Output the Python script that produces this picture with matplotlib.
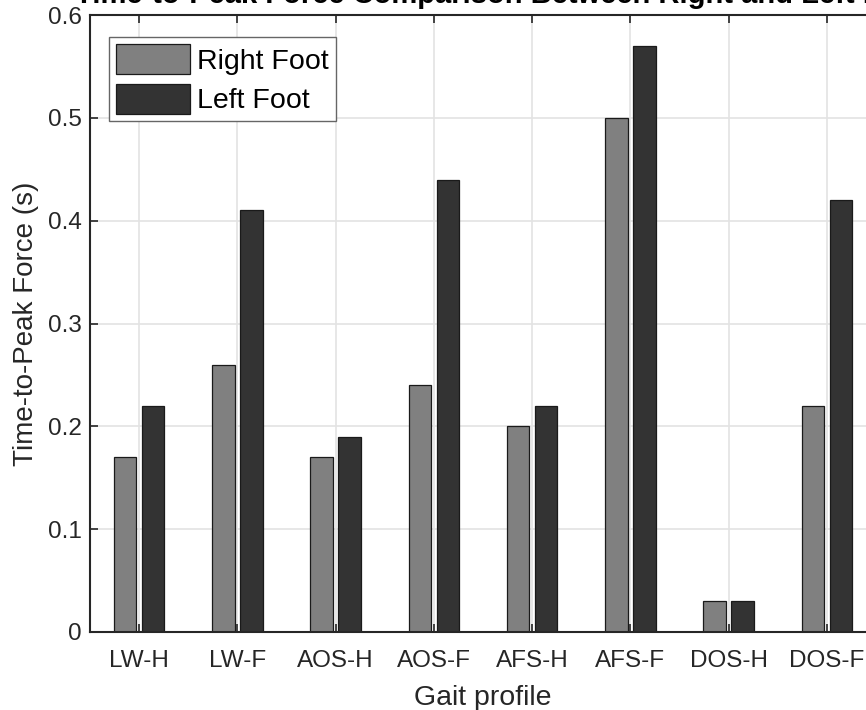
import matplotlib

matplotlib.use("Agg")
import matplotlib.pyplot as plt
import numpy as np

plt.rcParams["font.family"] = ["Liberation Sans", "DejaVu Sans"]

profiles = ["LW-H", "LW-F", "AOS-H", "AOS-F", "AFS-H", "AFS-F", "DOS-H", "DOS-F"]
right_foot = [0.17, 0.26, 0.17, 0.24, 0.20, 0.50, 0.03, 0.22]
left_foot = [0.22, 0.41, 0.19, 0.44, 0.22, 0.57, 0.03, 0.42]
yticks = [0, 0.1, 0.2, 0.3, 0.4, 0.5, 0.6]

W, H = 866, 710
fig = plt.figure(figsize=(W / 100, H / 100), dpi=100)
fig.patch.set_facecolor("white")

# axes box runs slightly past the right edge of the canvas
ax = fig.add_axes([90 / W, (H - 632) / H, (876 - 90) / W, (632 - 15) / H])

x = np.arange(1, len(profiles) + 1)
group_w = 2 / 3.5
bar_w = group_w / 2 * 0.8
off = group_w / 4

ax.bar(x - off, right_foot, bar_w, color="#808080", edgecolor="#1a1a1a",
       linewidth=0.9, label="Right Foot", zorder=3)
ax.bar(x + off, left_foot, bar_w, color="#333333", edgecolor="#1a1a1a",
       linewidth=0.9, label="Left Foot", zorder=3)

ax.set_xlim(0.5, len(profiles) + 0.5)
ax.set_ylim(0, 0.6)
ax.set_xticks(x)
ax.set_xticklabels(profiles)
ax.set_yticks(yticks)
ax.set_yticklabels([f"{v:g}" for v in yticks])

ax.grid(True, color="#e3e3e3", linewidth=1.2, zorder=0)
ax.set_axisbelow(True)

for side in ["top", "bottom", "left", "right"]:
    ax.spines[side].set_color("#262626")
    ax.spines[side].set_linewidth(1.5)
    ax.spines[side].set_zorder(4)

ax.tick_params(axis="both", direction="in", length=6, width=1.2,
               color="#262626", labelcolor="#262626", labelsize=17.5,
               top=True, right=True)
ax.tick_params(axis="x", pad=13)
ax.tick_params(axis="y", pad=6)

ax.set_xlabel("Gait profile", fontsize=20.5, color="#262626", labelpad=9)
ax.set_ylabel("Time-to-Peak Force (s)", fontsize=20, color="#262626", labelpad=6)

leg = ax.legend(loc="upper left", bbox_to_anchor=(0.024, 0.964), fontsize=20.5,
                frameon=True, fancybox=False, framealpha=1, edgecolor="#666666",
                handlelength=2.6, handleheight=1.25, handletextpad=0.25,
                labelspacing=0.3, borderpad=0.25, borderaxespad=0)
leg.get_frame().set_linewidth(1.0)

fig.text(500 / W, 1 - 3 / H,
         "Time-to-Peak Force Comparison Between Right and Left Foot",
         ha="center", va="baseline", fontsize=21, fontweight="bold",
         color="black")

fig.savefig("out.png", dpi=100)
